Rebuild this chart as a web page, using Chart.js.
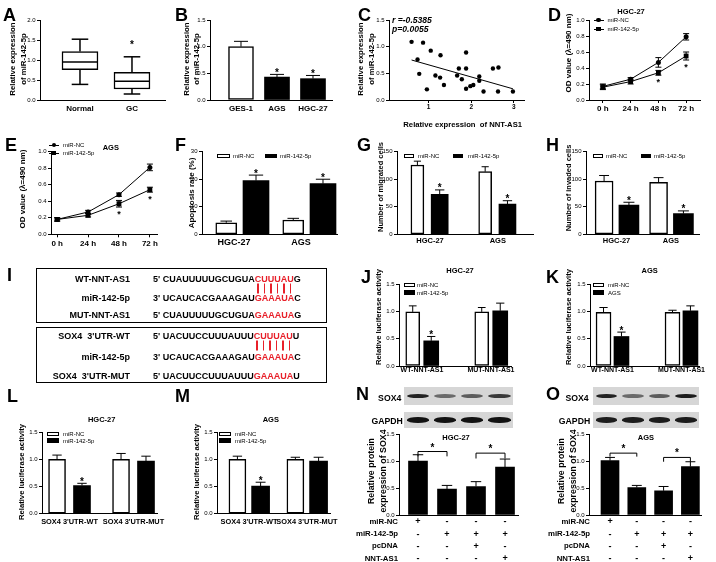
<!DOCTYPE html>
<html><head><meta charset="utf-8">
<script src="https://cdn.jsdelivr.net/npm/chart.js@4.4.1/dist/chart.umd.min.js"></script>
<style>
html,body{margin:0;padding:0;background:#fff;}
#fig{position:relative;width:716px;height:562px;overflow:hidden;font-family:'Liberation Sans',Arial,Helvetica,sans-serif;color:#000;}
#fig canvas{position:absolute;left:0;top:0;}
.tx{position:absolute;white-space:pre;line-height:1;}
.pb{position:relative;color:transparent;}
.pb::after{content:'';position:absolute;left:50%;top:0;height:10px;width:1.4px;margin-left:-0.7px;background:#e8202a;}
</style></head><body><div id="fig"></div>
<script>
// ---- data ----
// A: box plot
const groupsA = ['Normal', 'GC'];
const minA = [0.39, 0.15];
const q1A = [0.76, 0.275];
const medA = [0.95, 0.47];
const q3A = [1.21, 0.69];
const maxA = [1.52, 1.08];
const sigA = [false, true];
// B
const cellsB = ['GES-1', 'AGS', 'HGC-27'];
const meanB = [1.0, 0.43, 0.40];
const errB = [0.10, 0.05, 0.06];
const sigB = [false, true, true];
// C: correlation
const nntC = [0.60, 0.74, 0.78, 0.87, 0.96, 1.05, 1.16, 1.27, 1.28, 1.36, 1.67, 1.71, 1.78, 1.88, 1.88, 1.88, 1.98, 2.05, 2.19, 2.19, 2.29, 2.51, 2.64, 2.63, 2.98];
const mirC = [1.09, 0.76, 0.49, 1.075, 0.20, 0.925, 0.46, 0.42, 0.84, 0.28, 0.46, 0.59, 0.39, 0.89, 0.59, 0.21, 0.26, 0.28, 0.44, 0.36, 0.16, 0.59, 0.61, 0.16, 0.16];
const fitXC = [0.60, 2.98];
const fitYC = [0.75, 0.21];
// D, E: CCK-8
const hours = ['0 h', '24 h', '48 h', '72 h'];
const odNcD = [0.17, 0.26, 0.47, 0.79];
const odNcDErr = [0.03, 0.02, 0.06, 0.04];
const od142D = [0.16, 0.23, 0.34, 0.55];
const od142DErr = [0.03, 0.03, 0.03, 0.05];
const odNcE = [0.18, 0.27, 0.48, 0.81];
const odNcEErr = [0.02, 0.02, 0.02, 0.04];
const od142E = [0.18, 0.23, 0.37, 0.54];
const od142EErr = [0.02, 0.02, 0.04, 0.03];
const sigTime = [false, false, true, true];
// F, G, H
const cellsFGH = ['HGC-27', 'AGS'];
const namesNC142 = ['miR-NC', 'miR-142-5p'];
const apopNc = [4.2, 5.2], apopNcErr = [0.6, 0.6];
const apop142 = [19.5, 18.4], apop142Err = [2.0, 1.6];
const migNc = [125.8, 113.7], migNcErr = [7, 9];
const mig142 = [72.6, 55], mig142Err = [8, 6];
const invNc = [96.8, 94.4], invNcErr = [10, 8.5];
const inv142 = [53.2, 37.5], inv142Err = [5, 5];
const sigBoth = [true, true];
// J, K
const reporters = ['WT-NNT-AS1', 'MUT-NNT-AS1'];
const namesK = ['miR-NC', 'AGS'];
const lucJNc = [0.99, 0.99], lucJNcErr = [0.11, 0.08];
const lucJ142 = [0.46, 1.01], lucJ142Err = [0.08, 0.14];
const lucKNc = [0.98, 0.98], lucKNcErr = [0.09, 0.04];
const lucK142 = [0.54, 1.01], lucK142Err = [0.08, 0.09];
// L, M
const soxReporters = ["SOX4 3'UTR-WT", "SOX4 3'UTR-MUT"];
const lucLNc = [1.0, 1.0], lucLNcErr = [0.08, 0.11];
const lucL142 = [0.52, 0.97], lucL142Err = [0.04, 0.09];
const lucMNc = [1.0, 1.0], lucMNcErr = [0.06, 0.04];
const lucM142 = [0.51, 0.97], lucM142Err = [0.07, 0.07];
const sigFirst = [true, false];
// N, O
const treatRows = ['miR-NC', 'miR-142-5p', 'pcDNA', 'NNT-AS1'];
const treatSigns = [['+', '-', '-', '-'], ['-', '+', '+', '+'], ['-', '-', '+', '-'], ['-', '-', '-', '+']];
const protN = [1.0, 0.48, 0.53, 0.89], protNErr = [0.12, 0.07, 0.09, 0.15];
const protO = [1.01, 0.51, 0.45, 0.90], protOErr = [0.06, 0.04, 0.08, 0.09];
const sox4BandN = [0.92, 0.55, 0.62, 0.8], gapdhBandN = [1, 1, 1, 1];
const sox4BandO = [0.92, 0.55, 0.62, 0.95], gapdhBandO = [0.95, 0.95, 0.95, 0.95];
// I: binding sites
const seqNnt = ["5' CUAUUUUUGCUGUA", 'CUUUAU', 'G'];
const seqMir = ["3' UCAUCACGAAAGAU", 'GAAAUA', 'C'];
const seqNntMut = ["5' CUAUUUUUGCUGUA", 'GAAAUA', 'G'];
const seqSox = ["5' UACUUCCUUUAUUU", 'CUUUAU', 'U'];
const seqSoxMut = ["5' UACUUCCUUUAUUU", 'GAAAUA', 'U'];

// ---- helpers ----
const W = 716, H = 562;
const FONT = "'Liberation Sans', Arial, Helvetica, sans-serif";
const RED = '#e8202a';
const fig = document.getElementById('fig');

function txt(x, y, s, o = {}) {
    const d = document.createElement('div');
    d.className = 'tx';
    if (o.html) d.innerHTML = s; else d.textContent = s;
    const dx = o.a === 'l' ? '0' : o.a === 'r' ? '-100%' : '-50%';
    d.style.left = x + 'px';
    d.style.top = y + 'px';
    d.style.fontSize = (o.size || 8) + 'px';
    d.style.fontWeight = o.bold === false ? 'normal' : 'bold';
    if (o.italic) d.style.fontStyle = 'italic';
    d.style.transform = `translate(${dx},-50%)` + (o.rot ? ' rotate(-90deg)' : '');
    fig.appendChild(d);
    return d;
}

function box(x, y, w, h, css) {
    const d = document.createElement('div');
    d.style.cssText = `position:absolute;left:${x}px;top:${y}px;width:${w}px;height:${h}px;box-sizing:border-box;${css}`;
    fig.appendChild(d);
    return d;
}

function ytitle(x, y, lines, size, gap) {
    [].concat(lines).forEach((l, i) => txt(x + i * gap, y, l, {size, rot: true}));
}

function barKey(x, y, w, name, fill, tx) {
    box(x, y - 2.2, w, 4.4, `background:${fill};border:1px solid #000`);
    txt(tx, y, name, {a: 'l', size: 6, bold: false});
}

function lineKey(x, y, name, shape) {
    box(x, y - 0.5, 10, 1, 'background:#000');
    const s = shape === 'circle' ? 4.6 : 4.2;
    box(x + 5 - s / 2, y - s / 2, s, s, 'background:#000;' + (shape === 'circle' ? 'border-radius:50%' : ''));
    txt(x + 14, y, name, {a: 'l', size: 6, bold: false});
}

// error bars, box whiskers, stars and brackets
const marks = {
    id: 'marks',
    afterDatasetsDraw(chart, args, o) {
        const ctx = chart.ctx, ys = chart.scales.y, xs = chart.scales.x;
        const seg = (x1, y1, x2, y2) => { ctx.beginPath(); ctx.moveTo(x1, y1); ctx.lineTo(x2, y2); ctx.stroke(); };
        ctx.save();
        ctx.strokeStyle = '#000';
        ctx.fillStyle = '#000';
        chart.data.datasets.forEach((ds, di) => {
            const meta = chart.getDatasetMeta(di);
            meta.data.forEach((el, i) => {
                const pt = ds.data[i];
                const x = el.x;
                let top = null, low = null;
                if (ds.boxMax) {
                    ctx.lineWidth = 1.5;
                    const hw = el.width * 0.23;
                    const pMax = ys.getPixelForValue(ds.boxMax[i]);
                    const pMin = ys.getPixelForValue(ds.boxMin[i]);
                    const pMed = ys.getPixelForValue(ds.boxMed[i]);
                    const pQ1 = ys.getPixelForValue(pt.y[0]);
                    const pQ3 = ys.getPixelForValue(pt.y[1]);
                    seg(x, pQ3, x, pMax); seg(x - hw, pMax, x + hw, pMax);
                    seg(x, pQ1, x, pMin); seg(x - hw, pMin, x + hw, pMin);
                    seg(x - el.width / 2, pMed, x + el.width / 2, pMed);
                    top = pMax;
                }
                if (ds.err) {
                    ctx.lineWidth = 1;
                    const e = ds.err[i];
                    const pv = ys.getPixelForValue(pt.y);
                    const pu = ys.getPixelForValue(pt.y + e);
                    const hw = ds.capW / 2;
                    seg(x, pv, x, pu); seg(x - hw, pu, x + hw, pu);
                    top = pu;
                    if (ds.errBoth) {
                        const pd = ys.getPixelForValue(pt.y - e);
                        seg(x, pv, x, pd); seg(x - hw, pd, x + hw, pd);
                        low = pd;
                    }
                }
                if (ds.stars && ds.stars[i]) {
                    ctx.font = `bold ${ds.starSize || 10}px ${FONT}`;
                    ctx.textAlign = 'center';
                    ctx.textBaseline = 'alphabetic';
                    if (ds.starBelow) ctx.fillText('*', x, low + ds.starGap);
                    else ctx.fillText('*', x, top - ds.starGap);
                }
            });
        });
        (o.brackets || []).forEach(b => {
            ctx.lineWidth = 1;
            const xa = xs.getPixelForValue(b.a), xb = xs.getPixelForValue(b.b);
            const py = ys.getPixelForValue(b.y), pd = ys.getPixelForValue(b.drop);
            seg(xa, pd, xa, py); seg(xa, py, xb, py); seg(xb, py, xb, pd);
            ctx.font = `bold 10px ${FONT}`;
            ctx.textAlign = 'center';
            ctx.textBaseline = 'alphabetic';
            ctx.fillText('*', (xa + xb) / 2, py - 1);
        });
        ctx.restore();
    }
};

function chart(g, type, datasets, pl = {}) {
    const cv = document.createElement('canvas');
    cv.width = W; cv.height = H;
    fig.appendChild(cv);
    const xH = g.xH || 30;
    const yt = [];
    for (let v = g.ymin; v <= g.ymax + 1e-9; v += g.ystep) yt.push(+v.toFixed(4));
    return new Chart(cv, {
        type: type,
        data: {datasets: datasets},
        options: {
            responsive: false,
            animation: false,
            events: [],
            layout: {padding: {left: 0, top: g.T, right: W - g.R, bottom: H - g.B - xH}},
            scales: {
                x: {
                    type: 'linear', min: g.xmin, max: g.xmax, offset: false,
                    grid: {display: true, offset: false, drawOnChartArea: false, drawTicks: !!g.xtl, tickLength: g.xtl || 0, color: '#000', lineWidth: 1},
                    border: {display: true, color: '#000', width: 1},
                    afterBuildTicks: s => { s.ticks = g.xv.map(v => ({value: v})); },
                    afterFit: s => { s.height = xH; },
                    ticks: {
                        autoSkip: false, maxRotation: 0, minRotation: 0, padding: g.xpad, color: '#000',
                        font: {family: FONT, size: g.xs, weight: 'bold', lineHeight: g.xlh || 1.2},
                        callback: (v, i) => g.xl[i]
                    }
                },
                y: {
                    type: 'linear', min: g.ymin, max: g.ymax,
                    grid: {display: true, drawOnChartArea: false, drawTicks: true, tickLength: 3, color: '#000', lineWidth: 1},
                    border: {display: true, color: '#000', width: 1},
                    afterBuildTicks: s => { s.ticks = yt.map(v => ({value: v})); },
                    afterFit: s => { s.width = g.L; },
                    ticks: {padding: 1.5, color: '#000', font: {family: FONT, size: 6}, callback: v => v.toFixed(g.yd)}
                }
            },
            plugins: {legend: {display: false}, tooltip: {enabled: false}, marks: pl}
        },
        plugins: [marks]
    });
}

function pair(names, a, aErr, b, bErr, sig, offA, offB, wA, wB) {
    return [
        {label: names[0], data: a.map((v, i) => ({x: i + 1 + offA, y: v})), backgroundColor: '#fff', borderColor: '#000',
            borderWidth: 1.5, borderSkipped: false, barThickness: wA, grouped: false, err: aErr, capW: wA * 0.55},
        {label: names[1], data: b.map((v, i) => ({x: i + 1 + offB, y: v})), backgroundColor: '#000', borderWidth: 0,
            barThickness: wB, grouped: false, err: bErr, capW: wB * 0.55, stars: sig, starGap: -1.5}
    ];
}

function lines(names, a, aErr, b, bErr, sig) {
    const base = {borderColor: '#000', borderWidth: 1, backgroundColor: '#000', pointBackgroundColor: '#000',
        pointBorderWidth: 0, tension: 0, fill: false, errBoth: true, capW: 6};
    return [
        Object.assign({label: names[0], data: a.map((v, i) => ({x: i, y: v})), pointStyle: 'circle', pointRadius: 2.5, err: aErr}, base),
        Object.assign({label: names[1], data: b.map((v, i) => ({x: i, y: v})), pointStyle: 'rect', pointRadius: 3.4, err: bErr,
            stars: sig, starBelow: true, starGap: 9.5, starSize: 9}, base)
    ];
}

Chart.defaults.font.family = FONT;
Chart.defaults.color = '#000';

// ---- A ----
chart({L: 40, R: 165, T: 20, B: 100, xmin: 0.231, xmax: 2.635, xv: [1, 2], xl: groupsA, xs: 8, xpad: 3.5, ymin: 0, ymax: 2, ystep: 0.5, yd: 1},
    'bar', [{
        data: groupsA.map((g, i) => ({x: i + 1, y: [q1A[i], q3A[i]]})), backgroundColor: '#fff', borderColor: '#000',
        borderWidth: 1.5, borderSkipped: false, barThickness: 36, grouped: false,
        boxMin: minA, boxMed: medA, boxMax: maxA, stars: sigA, starGap: 8.5
    }]);
ytitle(13.3, 58.5, ['Relative expression', 'of miR-142-5p'], 7.8, 10.7);

// ---- B ----
chart({L: 210, R: 332, T: 20, B: 100, xmin: 0.139, xmax: 3.528, xv: [1, 2, 3], xl: cellsB, xs: 8, xpad: 3.5, ymin: 0, ymax: 1.5, ystep: 0.5, yd: 1},
    'bar', [{
        data: meanB.map((v, i) => ({x: i + 1, y: v})),
        backgroundColor: ['#fff', '#000', '#000'], borderColor: '#000', borderWidth: [1.5, 0, 0], borderSkipped: false,
        barThickness: 25, grouped: false, err: errB, capW: 14, stars: sigB, starGap: -1.5
    }]);
ytitle(186.7, 59, ['Relative expression', 'of miR-142-5p'], 7.8, 10);

// ---- C ----
chart({L: 389, R: 524, T: 20, B: 100, xmin: 0.07, xmax: 3.24, xv: [1, 2, 3], xl: ['1', '2', '3'], xs: 6.5, xtl: 3, xpad: 0, ymin: 0, ymax: 1.5, ystep: 0.5, yd: 1},
    'scatter', [
        {data: nntC.map((x, i) => ({x: x, y: mirC[i]})), pointRadius: 2.2, backgroundColor: '#000', borderWidth: 0},
        {type: 'line', data: fitXC.map((x, i) => ({x: x, y: fitYC[i]})), borderColor: '#000', borderWidth: 1, pointRadius: 0, showLine: true, fill: false}
    ]);
ytitle(361, 59, ['Relative expression', 'of miR-142-5p'], 7.8, 11);
txt(462.7, 124.5, 'Relative expression  of NNT-AS1', {size: 7.7});
txt(392, 20, 'r =-0.5385', {a: 'l', size: 8.6, italic: true});
txt(392, 29.3, 'p=0.0055', {a: 'l', size: 8.6, italic: true});

// ---- D ----
chart({L: 589, R: 700, T: 20, B: 100, xmin: -0.5, xmax: 3.5, xv: [0, 1, 2, 3], xl: hours, xs: 8, xtl: 3, xpad: 0.5, ymin: 0, ymax: 1, ystep: 0.2, yd: 1},
    'line', lines(namesNC142, odNcD, odNcDErr, od142D, od142DErr, sigTime));
ytitle(569.3, 53.3, 'OD value (\u03bb=490 nm)', 8, 0);
txt(631, 11.7, 'HGC-27', {size: 7.5});
lineKey(593.5, 20, namesNC142[0], 'circle');
lineKey(593.5, 29, namesNC142[1], 'rect');

// ---- E ----
chart({L: 51, R: 157, T: 151.7, B: 234.3, xmin: -0.2, xmax: 3.23, xv: [0, 1, 2, 3], xl: hours, xs: 8, xtl: 3, xpad: 1.2, ymin: 0, ymax: 1, ystep: 0.2, yd: 1},
    'line', lines(namesNC142, odNcE, odNcEErr, od142E, od142EErr, sigTime));
ytitle(23, 189, 'OD value (\u03bb=490 nm)', 8, 0);
txt(110.8, 148, 'AGS', {size: 7.5});
lineKey(49, 145, namesNC142[0], 'circle');
lineKey(49, 153.3, namesNC142[1], 'rect');

// ---- F ----
chart({L: 202, R: 337, T: 151.7, B: 234.3, xmin: 0.522, xmax: 2.537, xv: [1, 2], xl: cellsFGH, xs: 9, xpad: 2.6, ymin: 0, ymax: 30, ystep: 10, yd: 0},
    'bar', pair(namesNC142, apopNc, apopNcErr, apop142, apop142Err, sigBoth, -0.116, 0.328, 21, 26));
ytitle(191.7, 192.5, 'Apoptosis rate (%)', 8, 0);
barKey(217, 155.7, 13, namesNC142[0], '#fff', 233);
barKey(265, 155.7, 12, namesNC142[1], '#000', 280);

// ---- G ----
chart({L: 397, R: 533, T: 151.7, B: 234.3, xmin: 0.513, xmax: 2.52, xv: [1, 2], xl: cellsFGH, xs: 7.5, xpad: 2.2, ymin: 0, ymax: 150, ystep: 50, yd: 0},
    'bar', pair(namesNC142, migNc, migNcErr, mig142, mig142Err, sigBoth, -0.186, 0.143, 13, 17));
ytitle(381, 186.5, 'Number of migrated cells', 7.5, 0);
barKey(404, 155.7, 10, namesNC142[0], '#fff', 418);
barKey(453, 155.7, 10, namesNC142[1], '#000', 468);

// ---- H ----
chart({L: 586, R: 699, T: 151.7, B: 234.3, xmin: 0.44, xmax: 2.514, xv: [1, 2], xl: cellsFGH, xs: 7.5, xpad: 2.2, ymin: 0, ymax: 150, ystep: 50, yd: 0},
    'bar', pair(namesNC142, invNc, invNcErr, inv142, inv142Err, sigBoth, -0.228, 0.228, 18, 20));
ytitle(569, 188, 'Number of invaded cells', 7.5, 0);
barKey(593, 155.7, 10, namesNC142[0], '#fff', 606);
barKey(641, 155.7, 10, namesNC142[1], '#000', 654);

// ---- I ----
box(36, 268, 291, 55, 'border:1.5px solid #000');
box(36, 327, 291, 56, 'border:1.5px solid #000');
function seq(y, label, s) {
    txt(130, y, label, {a: 'r', size: 9});
    txt(153, y, `${s[0]}<span style="color:${RED}">${s[1]}</span>${s[2]}`, {a: 'l', size: 9, html: true});
}
function pairs(y, s) {
    txt(153, y, `<span style="visibility:hidden">${s[0]}</span>` + s[1].split('').map(c => `<span class="pb">${c}</span>`).join(''),
        {a: 'l', size: 9, html: true});
}
seq(279, 'WT-NNT-AS1', seqNnt);
pairs(288.5, seqNnt);
seq(298, 'miR-142-5p', seqMir);
seq(315, 'MUT-NNT-AS1', seqNntMut);
seq(336, "SOX4  3'UTR-WT", seqSox);
pairs(345.5, seqSox);
seq(357, 'miR-142-5p', seqMir);
seq(376, "SOX4  3'UTR-MUT", seqSoxMut);

// ---- J ----
chart({L: 399, R: 511, T: 284, B: 366, xmin: 0.667, xmax: 2.29, xv: [1, 2], xl: reporters, xs: 7, xpad: 0, ymin: 0, ymax: 1.5, ystep: 0.5, yd: 1},
    'bar', pair(namesNC142, lucJNc, lucJNcErr, lucJ142, lucJ142Err, sigFirst, -0.134, 0.134, 14, 15));
ytitle(379.3, 317, 'Relative luciferase activity', 7.7, 0);
txt(460, 271, 'HGC-27', {size: 7.5});
barKey(404, 285, 10.5, namesNC142[0], '#fff', 417);
barKey(404, 292.5, 10.5, namesNC142[1], '#000', 417);

// ---- K ----
chart({L: 590, R: 699, T: 284, B: 366, xmin: 0.674, xmax: 2.254, xv: [1, 2], xl: reporters, xs: 7, xpad: 0, ymin: 0, ymax: 1.5, ystep: 0.5, yd: 1},
    'bar', pair(namesK, lucKNc, lucKNcErr, lucK142, lucK142Err, sigFirst, -0.13, 0.13, 15, 15));
ytitle(569, 317, 'Relative luciferase activity', 7.7, 0);
txt(649.7, 271, 'AGS', {size: 7.5});
barKey(593, 285, 11, namesK[0], '#fff', 608);
barKey(593, 292.5, 11, namesK[1], '#000', 608);

// ---- L ----
chart({L: 42, R: 157, T: 432.3, B: 513.7, xmin: 0.57, xmax: 2.367, xv: [1, 2], xl: soxReporters, xs: 7.4, xpad: 3.9, ymin: 0, ymax: 1.5, ystep: 0.5, yd: 1},
    'bar', pair(namesNC142, lucLNc, lucLNcErr, lucL142, lucL142Err, sigFirst, -0.195, 0.195, 17, 17));
ytitle(21.7, 471.5, 'Relative luciferase activity', 7.7, 0);
txt(101.7, 420, 'HGC-27', {size: 7.5});
barKey(47, 434, 11.5, namesNC142[0], '#fff', 63);
barKey(47, 440.5, 11.5, namesNC142[1], '#000', 63);

// ---- M ----
chart({L: 217, R: 330, T: 432.3, B: 513.7, xmin: 0.448, xmax: 2.397, xv: [1, 2], xl: soxReporters, xs: 7.4, xpad: 3.9, ymin: 0, ymax: 1.5, ystep: 0.5, yd: 1},
    'bar', pair(namesNC142, lucMNc, lucMNcErr, lucM142, lucM142Err, sigFirst, -0.2, 0.2, 17, 18));
ytitle(196.7, 471.5, 'Relative luciferase activity', 7.7, 0);
txt(270.8, 420, 'AGS', {size: 7.5});
barKey(219, 434, 12, namesNC142[0], '#fff', 235);
barKey(219, 440.5, 12, namesNC142[1], '#000', 235);

// ---- N, O ----
function blot(x0, y0, w, h, bandH, inten) {
    box(x0, y0, w, h, 'background:#d6d6d6');
    const lw = w / inten.length;
    inten.forEach((a, i) => {
        box(x0 + i * lw + 2.5, y0 + h / 2 - bandH / 2, lw - 5, bandH,
            `background:rgba(18,18,18,${a});border-radius:50%;filter:blur(0.7px)`);
    });
}
const lanes = [0, 1, 2, 3].map(i => treatSigns.map(r => r[i]));
function western(g, vals, errs, brackets, rowRight, blotX, blotW, labX, title) {
    chart(Object.assign({T: 434.3, B: 515, xv: [1, 2, 3, 4], xl: lanes, xs: 9, xlh: 1.35, xpad: 0.9, xH: 45, ymin: 0, ymax: 1.5, ystep: 0.5, yd: 1}, g),
        'bar', [{
            data: vals.map((v, i) => ({x: i + 1, y: v})), backgroundColor: '#000', borderWidth: 0,
            barThickness: g.bw, grouped: false, err: errs, capW: g.bw * 0.55
        }], {brackets: brackets});
    treatRows.forEach((r, i) => txt(rowRight, 522 + i * 12.2, r, {a: 'r', size: 7.8}));
    blot(blotX, 387, blotW, 18, 4.2, g.sox);
    blot(blotX, 412, blotW, 16, 5.5, g.gapdh);
    txt(labX, 398.3, 'SOX4', {size: 8.7});
    txt(labX - 2.5, 421, 'GAPDH', {size: 8.7});
    txt(g.tx, 438, title, {size: 7.5});
    ytitle(g.L - 28, 471, ['Relative protein', 'expression of SOX4'], 8.8, 11.7);
}
western({L: 399, R: 518, xmin: 0.345, xmax: 4.448, bw: 19, sox: sox4BandN, gapdh: gapdhBandN, tx: 456},
    protN, protNErr, [{a: 1, b: 2, y: 1.18, drop: 1.09}, {a: 3, b: 4, y: 1.15, drop: 1.05}], 398, 404, 109, 389.7, 'HGC-27');
western({L: 589, R: 701, xmin: 0.216, xmax: 4.396, bw: 18, sox: sox4BandO, gapdh: gapdhBandO, tx: 646},
    protO, protOErr, [{a: 1, b: 2, y: 1.15, drop: 1.085}, {a: 3, b: 4, y: 1.07, drop: 0.99}], 590, 593, 106, 577, 'AGS');

// ---- panel letters ----
[['A', 3, 15], ['B', 175, 15], ['C', 358, 15], ['D', 548, 15],
 ['E', 5, 145], ['F', 175, 145], ['G', 357, 145], ['H', 546, 145],
 ['I', 7, 275], ['J', 361, 277], ['K', 546, 277],
 ['L', 7, 396], ['M', 175, 396], ['N', 356, 394], ['O', 546, 394]
].forEach(([s, x, y]) => txt(x, y, s, {a: 'l', size: 18}));
</script></body></html>
